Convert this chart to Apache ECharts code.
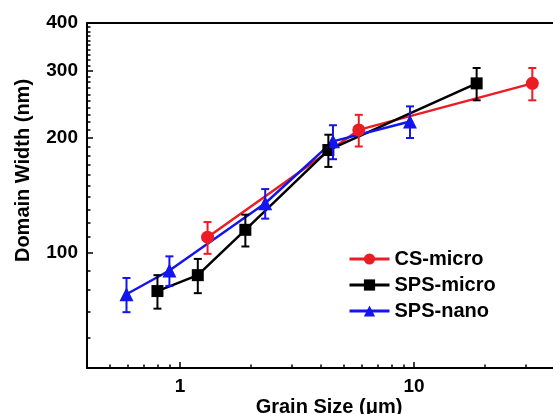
<!DOCTYPE html>
<html>
<head>
<meta charset="utf-8">
<script src="https://cdn.jsdelivr.net/npm/echarts@6/dist/echarts.min.js"></script>
<style>
  html, body { margin: 0; padding: 0; background: #fff; }
  #chart { width: 553px; height: 414px; }
</style>
</head>
<body>
<div id="chart"></div>
<script>
// grain size (um) / domain width (nm) / error (nm)
const csX = [1.31, 5.8, 32];
const csY = [110, 210, 278];
const csErr = [10.5, 20, 27];

const spsMicroX = [0.8, 1.19, 1.9, 4.3, 18.5];
const spsMicroY = [79.5, 87.5, 115, 186, 278];
const spsMicroErr = [8, 9, 11, 18, 27];

const spsNanoX = [0.59, 0.9, 2.31, 4.5, 9.6];
const spsNanoY = [78, 90, 135, 196, 221];
const spsNanoErr = [8, 8, 12, 20, 21];

// tick labels
const xMajorTicks = [1, 10];
const xMinorTicks = [0.5, 0.6, 0.7, 0.8, 0.9, 2, 3, 4, 5, 6, 7, 8, 9, 20, 30];
const yMajorTicks = [100, 200, 300, 400];
const yMinorTicks = [60, 70, 80, 90, 110, 120, 130, 140, 150, 160, 170, 180, 190,
  210, 220, 230, 240, 250, 260, 270, 280, 290, 310, 320, 330, 340, 350, 360, 370, 380, 390];

const RED = '#ec1c24';
const BLACK = '#000000';
const BLUE = '#1414ee';
const FONT = '"Liberation Sans", Arial, sans-serif';

const toPoints = (xs, ys) => xs.map((x, i) => [x, ys[i]]);

// vertical error bar with caps
const errorSeries = (name, xs, ys, errs, color) => ({
  type: 'custom',
  name: name,
  z: 4,
  silent: true,
  data: xs.map((x, i) => [x, ys[i] - errs[i], ys[i] + errs[i]]),
  encode: { x: 0, y: [1, 2] },
  renderItem: (params, api) => {
    const top = api.coord([api.value(0), api.value(2)]);
    const bot = api.coord([api.value(0), api.value(1)]);
    const w = 4;
    const style = { stroke: color, lineWidth: 2 };
    return {
      type: 'group',
      children: [
        { type: 'line', shape: { x1: top[0], y1: top[1], x2: bot[0], y2: bot[1] }, style },
        { type: 'line', shape: { x1: top[0] - w, y1: top[1], x2: top[0] + w, y2: top[1] }, style },
        { type: 'line', shape: { x1: bot[0] - w, y1: bot[1], x2: bot[0] + w, y2: bot[1] }, style }
      ]
    };
  }
});

const lineSeries = (name, xs, ys, color, symbol, size) => ({
  type: 'line',
  name: name,
  data: toPoints(xs, ys),
  symbol: symbol,
  symbolSize: size,
  showAllSymbol: true,
  z: 3,
  itemStyle: { color: color },
  lineStyle: { color: color, width: 2.5 },
  emphasis: { disabled: true }
});

const labelStyle = { color: '#000', fontFamily: FONT, fontWeight: 'bold', fontSize: 19 };

const chart = echarts.init(document.getElementById('chart'));
chart.setOption({
  backgroundColor: '#fff',
  animation: false,
  grid: {
    left: 87, right: -2, top: 23, bottom: 46,
    show: true, borderColor: '#000', borderWidth: 2,
    outerBoundsMode: 'none'
  },
  legend: {
    data: ['CS-micro', 'SPS-micro', 'SPS-nano'],
    orient: 'vertical',
    left: 343, top: 244,
    itemWidth: 40, itemHeight: 14, itemGap: 6,
    lineStyle: { width: 3 },
    textStyle: { color: '#000', fontFamily: FONT, fontWeight: 'bold', fontSize: 20 }
  },
  xAxis: [
    {
      type: 'log', logBase: 10, min: 0.4, max: 40,
      name: 'Grain Size (\u03bcm)', nameLocation: 'middle', nameGap: 29,
      nameMoveOverlap: false,
      nameTextStyle: { color: '#000', fontFamily: FONT, fontWeight: 'bold', fontSize: 20, padding: [0, 0, 0, 16] },
      axisLine: { lineStyle: { color: '#000', width: 2 } },
      axisTick: { inside: true, length: 6, customValues: xMajorTicks, lineStyle: { color: '#000', width: 1.5 } },
      axisLabel: Object.assign({ customValues: xMajorTicks, margin: 9 }, labelStyle),
      splitLine: { show: false }
    },
    {
      type: 'log', logBase: 10, min: 0.4, max: 40, position: 'bottom',
      axisLine: { show: false },
      axisTick: { inside: true, length: 3.5, customValues: xMinorTicks, lineStyle: { color: '#000', width: 1.5 } },
      axisLabel: { show: false },
      splitLine: { show: false }
    }
  ],
  yAxis: [
    {
      type: 'log', logBase: 10, min: 50, max: 400,
      name: 'Domain Width (nm)', nameLocation: 'middle', nameGap: 54,
      nameTextStyle: { color: '#000', fontFamily: FONT, fontWeight: 'bold', fontSize: 20, padding: [0, 0, 0, 50] },
      axisLine: { lineStyle: { color: '#000', width: 2 } },
      axisTick: { inside: true, length: 6, customValues: yMajorTicks, lineStyle: { color: '#000', width: 1.5 } },
      axisLabel: Object.assign({ customValues: yMajorTicks, margin: 9 }, labelStyle),
      splitLine: { show: false }
    },
    {
      type: 'log', logBase: 10, min: 50, max: 400, position: 'left',
      axisLine: { show: false },
      axisTick: { inside: true, length: 3.5, customValues: yMinorTicks, lineStyle: { color: '#000', width: 1.5 } },
      axisLabel: { show: false },
      splitLine: { show: false }
    }
  ],
  series: [
    lineSeries('CS-micro', csX, csY, RED, 'circle', 13),
    lineSeries('SPS-micro', spsMicroX, spsMicroY, BLACK, 'rect', 12),
    lineSeries('SPS-nano', spsNanoX, spsNanoY, BLUE, 'triangle', 14),
    errorSeries('CS-micro err', csX, csY, csErr, RED),
    errorSeries('SPS-micro err', spsMicroX, spsMicroY, spsMicroErr, BLACK),
    errorSeries('SPS-nano err', spsNanoX, spsNanoY, spsNanoErr, BLUE)
  ]
});
</script>
</body>
</html>
